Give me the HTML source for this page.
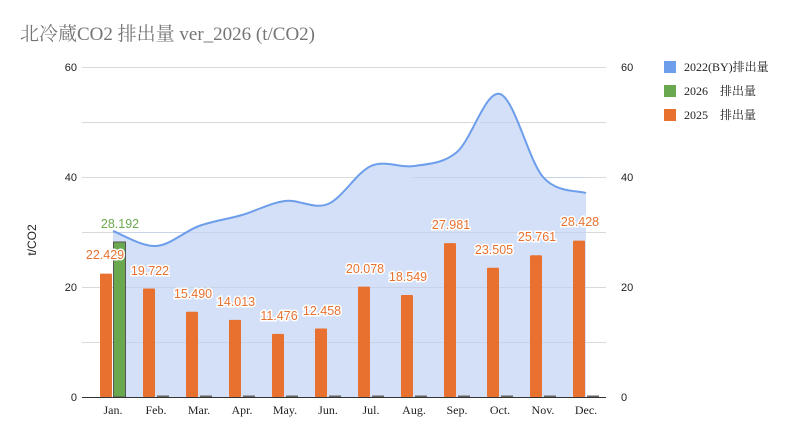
<!DOCTYPE html>
<html><head><meta charset="utf-8"><style>
body{margin:0;background:#fff;}
svg{display:block;font-family:"Liberation Sans","Noto Sans CJK JP",sans-serif;}
.lbl{font-size:12.5px;fill:#e8712f;stroke:#fff;stroke-width:3;paint-order:stroke;text-anchor:middle;}
.m{font-family:"Liberation Serif","Noto Serif CJK SC",serif;font-size:12px;fill:#222;text-anchor:middle;}
.ax{font-size:11px;fill:#222;}
</style></head><body>
<svg width="795" height="439" viewBox="0 0 795 439">
<text x="20" y="40" font-family="Liberation Serif, Noto Serif CJK SC, serif" font-size="19" fill="#757575">北冷蔵CO2 排出量 ver_2026 (t/CO2)</text>
<g stroke="#d9d9d9" stroke-width="1">
<line x1="82" x2="606" y1="67.5" y2="67.5"/><line x1="82" x2="606" y1="122.5" y2="122.5"/>
<line x1="82" x2="606" y1="177.5" y2="177.5"/><line x1="82" x2="606" y1="232.5" y2="232.5"/>
<line x1="82" x2="606" y1="287.5" y2="287.5"/><line x1="82" x2="606" y1="342.5" y2="342.5"/>
</g>
<g class="ax" text-anchor="end"><text x="77" y="71">60</text><text x="77" y="181">40</text><text x="77" y="291">20</text><text x="77" y="401">0</text></g>
<g class="ax"><text x="621" y="71">60</text><text x="621" y="181">40</text><text x="621" y="291">20</text><text x="621" y="401">0</text></g>
<text transform="translate(36,240) rotate(-90)" font-size="12" fill="#222" text-anchor="middle">t/CO2</text>
<path d="M113,231 C120.2,233.5 141.7,246.8 156,246 C170.3,245.2 184.7,231.2 199,226 C213.3,220.8 227.7,219.2 242,215 C256.3,210.8 270.7,202.8 285,201 C299.3,199.2 313.7,209.8 328,204 C342.3,198.2 356.7,172.3 371,166 C385.3,159.7 399.7,168.3 414,166 C428.3,163.7 442.7,164 457,152 C471.3,140 485.7,89.8 500,94 C514.3,98.2 528.7,160.5 543,177 C557.3,193.5 578.8,190.3 586,193 L586,397 L113,397 Z" fill="#d3e0f8"/>
<g stroke="#c8d3e8" stroke-width="1">
<line x1="113" x2="586" y1="232.5" y2="232.5"/><line x1="113" x2="586" y1="287.5" y2="287.5"/><line x1="113" x2="586" y1="342.5" y2="342.5"/><line x1="413" x2="586" y1="177.5" y2="177.5"/><line x1="480" x2="520" y1="122.5" y2="122.5"/>
</g>
<path d="M113,231 C120.2,233.5 141.7,246.8 156,246 C170.3,245.2 184.7,231.2 199,226 C213.3,220.8 227.7,219.2 242,215 C256.3,210.8 270.7,202.8 285,201 C299.3,199.2 313.7,209.8 328,204 C342.3,198.2 356.7,172.3 371,166 C385.3,159.7 399.7,168.3 414,166 C428.3,163.7 442.7,164 457,152 C471.3,140 485.7,89.8 500,94 C514.3,98.2 528.7,160.5 543,177 C557.3,193.5 578.8,190.3 586,193" fill="none" stroke="#6d9eeb" stroke-width="2"/>
<g fill="#e8712f">
<rect x="100" y="273.6" width="12" height="123.4" rx="1"/>
<rect x="143" y="288.5" width="12" height="108.5" rx="1"/>
<rect x="186" y="311.8" width="12" height="85.2" rx="1"/>
<rect x="229" y="319.9" width="12" height="77.1" rx="1"/>
<rect x="272" y="333.9" width="12" height="63.1" rx="1"/>
<rect x="315" y="328.5" width="12" height="68.5" rx="1"/>
<rect x="358" y="286.6" width="12" height="110.4" rx="1"/>
<rect x="401" y="295" width="12" height="102" rx="1"/>
<rect x="444" y="243.1" width="12" height="153.9" rx="1"/>
<rect x="487" y="267.7" width="12" height="129.3" rx="1"/>
<rect x="530" y="255.3" width="12" height="141.7" rx="1"/>
<rect x="573" y="240.6" width="12" height="156.4" rx="1"/>
</g>
<rect x="113.5" y="242" width="12" height="155" fill="#6aa84f" stroke="#555" stroke-width="1"/>
<g fill="#666"><rect x="157" y="395.5" width="12" height="1.5"/><rect x="200" y="395.5" width="12" height="1.5"/><rect x="243" y="395.5" width="12" height="1.5"/><rect x="286" y="395.5" width="12" height="1.5"/><rect x="329" y="395.5" width="12" height="1.5"/><rect x="372" y="395.5" width="12" height="1.5"/><rect x="415" y="395.5" width="12" height="1.5"/><rect x="458" y="395.5" width="12" height="1.5"/><rect x="501" y="395.5" width="12" height="1.5"/><rect x="544" y="395.5" width="12" height="1.5"/><rect x="587" y="395.5" width="12" height="1.5"/></g>
<line x1="82" x2="606" y1="397.5" y2="397.5" stroke="#333" stroke-width="1"/>
<g class="lbl">
<text x="105" y="259">22.429</text><text x="150" y="275">19.722</text><text x="193" y="298">15.490</text><text x="236" y="306">14.013</text><text x="279" y="320">11.476</text><text x="322" y="315">12.458</text><text x="365" y="273">20.078</text><text x="408" y="281">18.549</text><text x="451" y="229">27.981</text><text x="494" y="254">23.505</text><text x="537" y="241">25.761</text><text x="580" y="226">28.428</text>
</g>
<text x="120" y="228" class="lbl" style="fill:#6aa84f">28.192</text>
<g class="m"><text x="113" y="414">Jan.</text><text x="156" y="414">Feb.</text><text x="199" y="414">Mar.</text><text x="242" y="414">Apr.</text><text x="285" y="414">May.</text><text x="328" y="414">Jun.</text><text x="371" y="414">Jul.</text><text x="414" y="414">Aug.</text><text x="457" y="414">Sep.</text><text x="500" y="414">Oct.</text><text x="543" y="414">Nov.</text><text x="586" y="414">Dec.</text></g>
<rect x="664" y="61" width="12" height="12" fill="#6d9eeb"/>
<rect x="664" y="85" width="12" height="12" fill="#6aa84f"/>
<rect x="664" y="109" width="12" height="12" fill="#e8712f"/>
<g font-family="Liberation Serif, Noto Serif CJK SC, serif" font-size="12" fill="#222">
<text x="684" y="71">2022(BY)排出量</text><text x="684" y="95">2026　排出量</text><text x="684" y="119">2025　排出量</text></g>
</svg>
</body></html>
